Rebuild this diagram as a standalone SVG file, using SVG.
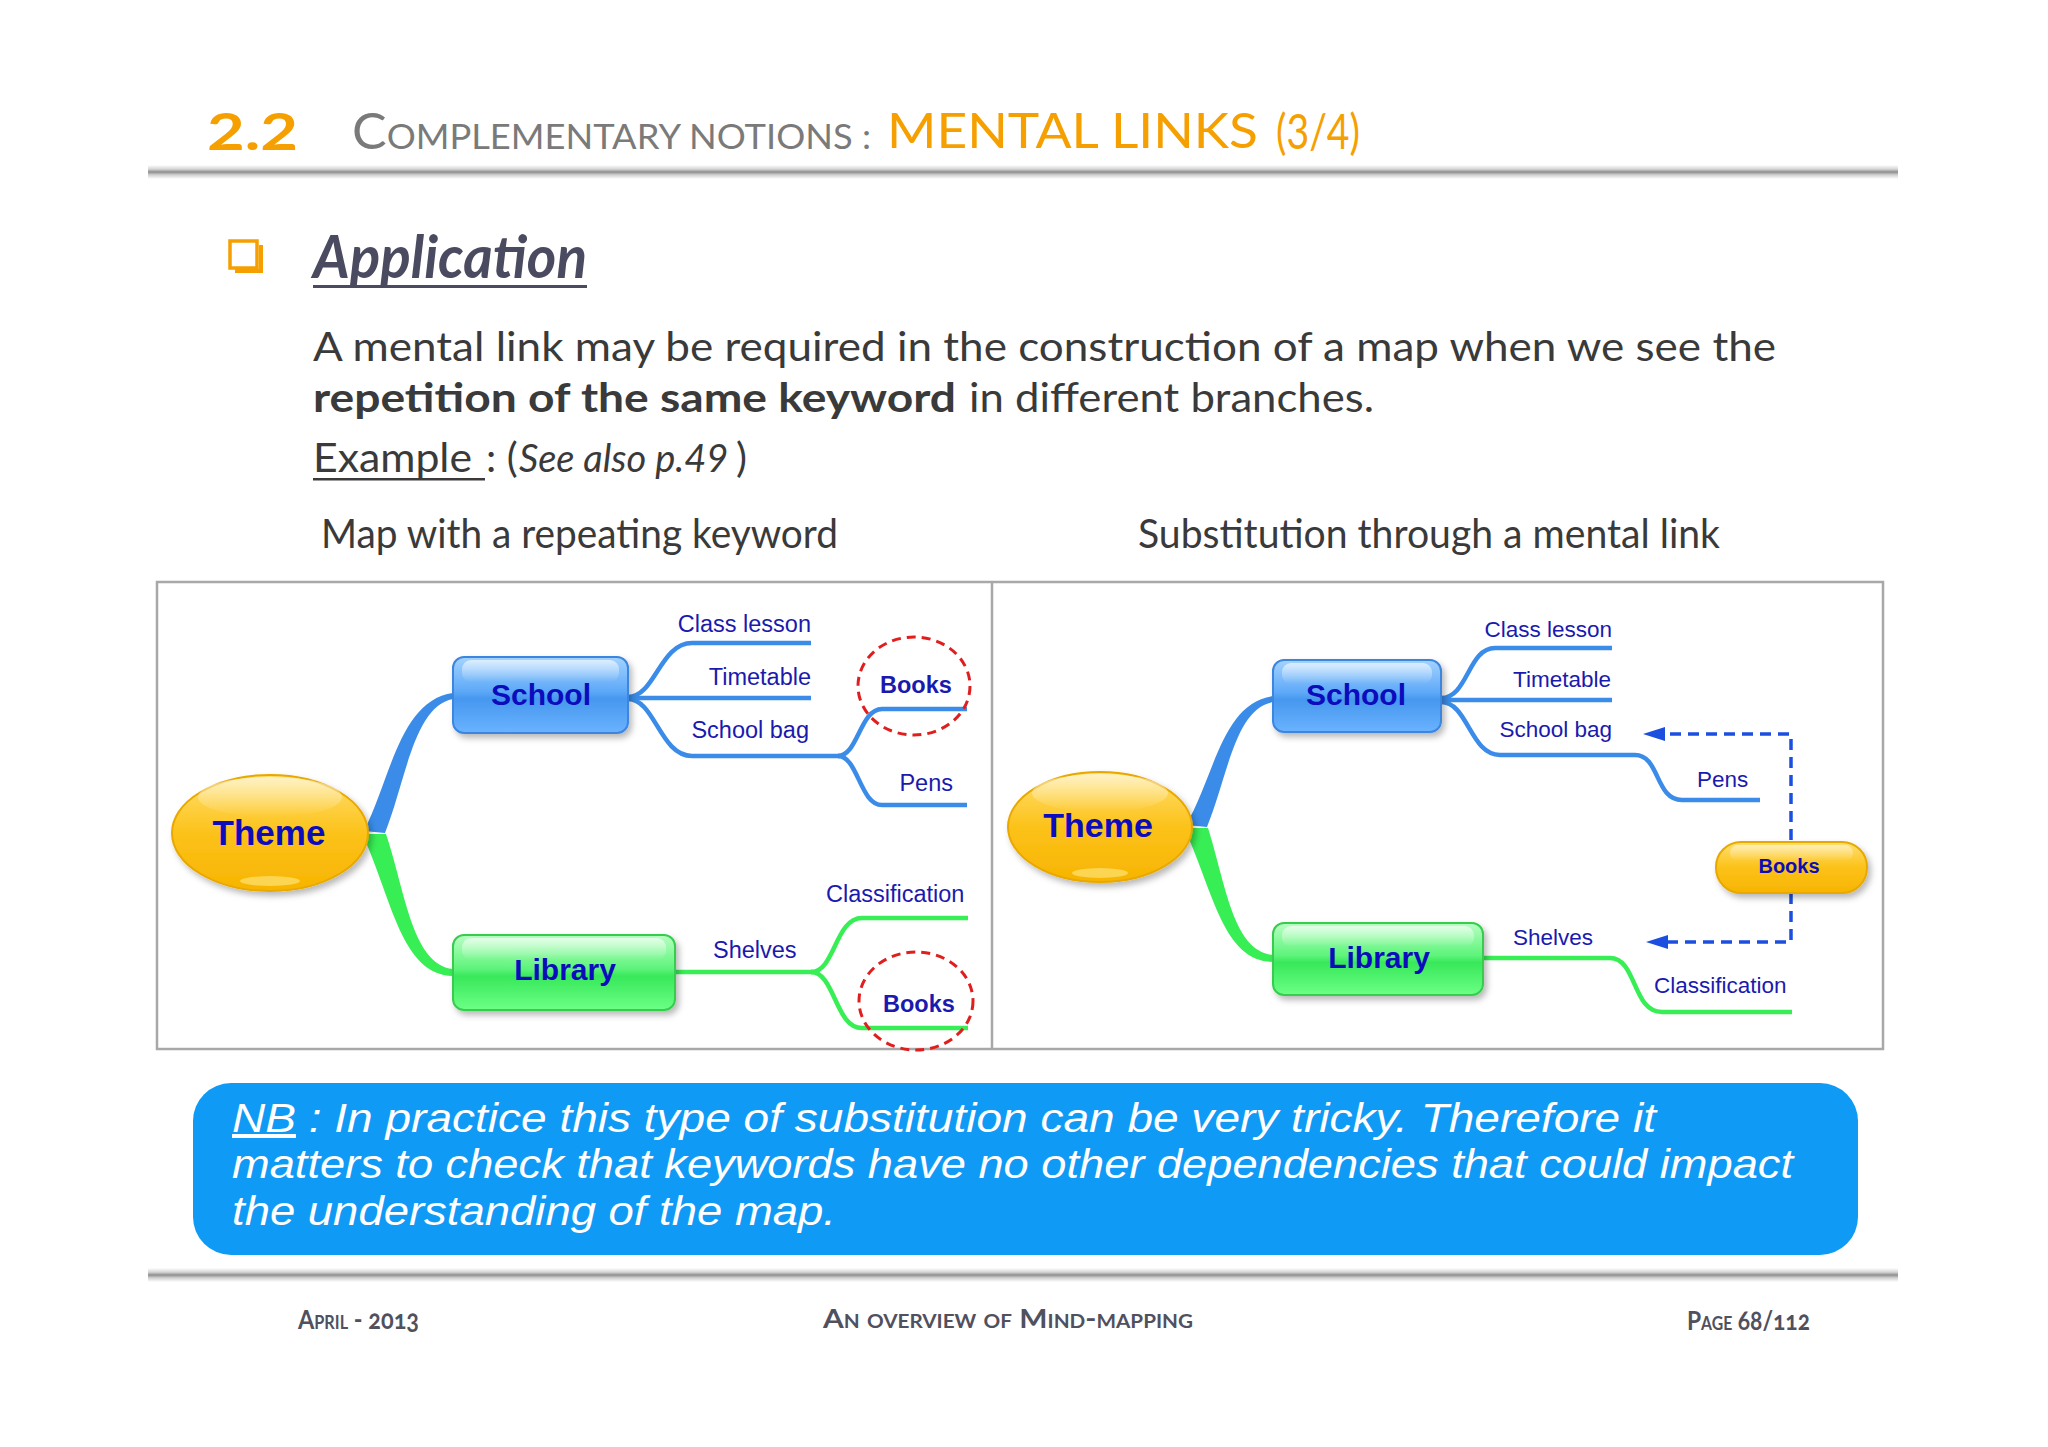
<svg xmlns="http://www.w3.org/2000/svg" width="2048" height="1447" viewBox="0 0 2048 1447">
<defs>
<style>
.title{font-family:Lato,"Open Sans","Liberation Sans",sans-serif;}
.body{font-family:Lato,"Open Sans","Liberation Sans",sans-serif;fill:#3a3a3a;font-size:41px;}
.foot{font-family:Lato,"Open Sans","Liberation Sans",sans-serif;fill:#50505e;font-size:26px;font-variant:small-caps;font-variant-numeric:oldstyle-nums;font-weight:bold;}
.lbl{font-family:"Liberation Sans",Arial,sans-serif;fill:#1a1aae;font-size:23.5px;}
.lblr{font-family:"Liberation Sans",Arial,sans-serif;fill:#1a1aae;font-size:22.5px;}
.node{font-family:"Liberation Sans",Arial,sans-serif;fill:#0c0cbc;font-weight:bold;text-anchor:middle;}
.bl{fill:none;stroke:#3a8ce8;stroke-width:4.5;stroke-linecap:butt;}
.gl{fill:none;stroke:#38ee55;stroke-width:4.5;stroke-linecap:butt;}
.red{fill:none;stroke:#e01e1e;stroke-width:3;stroke-dasharray:9 6;}
.dash{fill:none;stroke:#1c4fe0;stroke-width:3.5;stroke-dasharray:11 7;}
.nb{font-family:"Liberation Sans",Arial,sans-serif;font-style:italic;fill:#ffffff;font-size:40px;}
</style>
<linearGradient id="rule" x1="0" y1="0" x2="0" y2="1">
<stop offset="0" stop-color="#ffffff"/>
<stop offset="0.3" stop-color="#d4d4d4"/>
<stop offset="0.5" stop-color="#8e8e8e"/>
<stop offset="0.7" stop-color="#cfcfcf"/>
<stop offset="1" stop-color="#ffffff"/>
</linearGradient>
<linearGradient id="yel" x1="0" y1="0" x2="0" y2="1">
<stop offset="0" stop-color="#ffe070"/>
<stop offset="0.5" stop-color="#fcc21a"/>
<stop offset="1" stop-color="#f7b400"/>
</linearGradient>
<linearGradient id="blu" x1="0" y1="0" x2="0" y2="1">
<stop offset="0" stop-color="#a4d3ff"/>
<stop offset="0.45" stop-color="#5ea9f8"/>
<stop offset="0.55" stop-color="#4697ef"/>
<stop offset="1" stop-color="#6ab3ff"/>
</linearGradient>
<linearGradient id="grn" x1="0" y1="0" x2="0" y2="1">
<stop offset="0" stop-color="#b8ffc2"/>
<stop offset="0.45" stop-color="#5ef47b"/>
<stop offset="0.55" stop-color="#38e85a"/>
<stop offset="1" stop-color="#6cff86"/>
</linearGradient>
<linearGradient id="gloss" x1="0" y1="0" x2="0" y2="1">
<stop offset="0" stop-color="#ffffff" stop-opacity="0.85"/>
<stop offset="1" stop-color="#ffffff" stop-opacity="0"/>
</linearGradient>
<filter id="sh" x="-20%" y="-20%" width="150%" height="160%">
<feDropShadow dx="3" dy="4" stdDeviation="3" flood-color="#000" flood-opacity="0.28"/>
</filter>
<marker id="arr" markerUnits="userSpaceOnUse" markerWidth="24" markerHeight="16" refX="0" refY="7" orient="auto">
<path d="M0,0 L22,7 L0,14 Z" fill="#1c4fe0"/>
</marker>
</defs>

<rect width="2048" height="1447" fill="#ffffff"/>

<!-- header -->
<g id="header">
<text class="title" x="207" y="150" font-size="52" fill="#f5a000" font-weight="bold" textLength="91" lengthAdjust="spacingAndGlyphs">2.2</text>
<text class="title" x="352" y="149" fill="#7a7a7a" textLength="519" lengthAdjust="spacingAndGlyphs"><tspan font-size="50">C</tspan><tspan font-size="35">OMPLEMENTARY NOTIONS :</tspan></text>
<text class="title" x="887" y="148" font-size="48" fill="#f5a000" textLength="371" lengthAdjust="spacingAndGlyphs">MENTAL LINKS</text>
<text class="title" x="1276" y="149" font-size="48" fill="#f5a000" textLength="84" lengthAdjust="spacingAndGlyphs">(3/4)</text>
<rect x="148" y="165" width="1750" height="14" fill="url(#rule)"/>
</g>

<!-- application heading -->
<g id="heading">
<rect x="230" y="241" width="27" height="27" fill="none" stroke="#f5a000" stroke-width="3.5"/>
<path d="M259,245 L263,245 L263,273 L235,273 L235,269 L259,269 Z" fill="#f5a000"/>
<text x="313" y="278" font-family="Lato,'Open Sans','Liberation Sans',sans-serif" font-size="60" font-style="italic" font-weight="bold" fill="#4a4a60" textLength="274" lengthAdjust="spacingAndGlyphs">Application</text>
<rect x="313" y="285" width="274" height="3" fill="#4a4a60"/>
</g>

<g id="bodytext">
<text class="body" x="313" y="361" textLength="1463" lengthAdjust="spacingAndGlyphs">A mental link may be required in the construction of a map when we see the</text>
<text class="body" x="313" y="412" font-weight="bold" textLength="643" lengthAdjust="spacingAndGlyphs">repetition of the same keyword</text>
<text class="body" x="969" y="412" textLength="405" lengthAdjust="spacingAndGlyphs">in different branches.</text>
<text class="body" x="313" y="472" textLength="159" lengthAdjust="spacingAndGlyphs">Example</text>
<rect x="313" y="478" width="172" height="2.5" fill="#3a3a3a"/>
<text class="body" x="486" y="472">: (</text>
<text class="body" x="519" y="472" style="font-size:38px" font-style="italic">See also p.49</text>
<text class="body" x="736" y="472">)</text>
<text class="body" x="321" y="548" style="font-size:40px" textLength="517" lengthAdjust="spacingAndGlyphs">Map with a repeating keyword</text>
<text class="body" x="1138" y="548" style="font-size:40px" textLength="582" lengthAdjust="spacingAndGlyphs">Substitution through a mental link</text>
</g>

<!-- panels -->
<g id="panels">
<rect x="157" y="582" width="1726" height="467" fill="#ffffff" stroke="#a8a8a8" stroke-width="2.5"/>
<line x1="992" y1="582" x2="992" y2="1049" stroke="#a8a8a8" stroke-width="2.5"/>
</g>

<!-- connectors -->
<g id="connectors">
<path d="M364,831 C390,780 400,700 453,693 L453,699 C414,706 406,780 385,833 Z" fill="#3a8ce8"/>
<path d="M364,834 L386,834 C405,890 412,965 453,969 L453,976 C402,975 392,900 364,838 Z" fill="#38ee55"/>
<path class="bl" d="M628,697 C655,697 660,643 692,643 L811,643"/>
<path class="bl" d="M628,698 L811,698"/>
<path class="bl" d="M628,699 C655,699 660,756 692,756 L842,756"/>
<path class="bl" d="M838,756 C858,756 860,709 882,709 L967,709"/>
<path class="bl" d="M838,756 C858,756 860,805 882,805 L967,805"/>
<path class="gl" d="M675,972 L815,972"/>
<path class="gl" d="M811,972 C835,972 835,918 862,918 L968,918"/>
<path class="gl" d="M811,972 C835,972 835,1028 862,1028 L968,1028"/>
<path d="M1186,825 C1215,775 1222,703 1273,696 L1273,702 C1235,709 1228,775 1207,827 Z" fill="#3a8ce8"/>
<path d="M1186,828 L1208,828 C1226,885 1233,951 1273,955 L1273,962 C1224,961 1214,895 1186,832 Z" fill="#38ee55"/>
<path class="bl" d="M1441,698 C1468,698 1468,648 1495,648 L1612,648"/>
<path class="bl" d="M1441,700 L1612,700"/>
<path class="bl" d="M1441,702 C1468,702 1470,755 1500,755 L1635,755 C1660,755 1655,800 1682,800 L1760,800"/>
<path class="gl" d="M1483,958 L1610,958 C1637,958 1632,1012 1662,1012 L1792,1012"/>
<path class="dash" d="M1791,840 L1791,734 L1665,734" marker-end="url(#arr)"/>
<path class="dash" d="M1791,893 L1791,942 L1668,942" marker-end="url(#arr)"/>
<ellipse class="red" cx="914" cy="686" rx="56" ry="49"/>
<ellipse class="red" cx="916" cy="1001" rx="57" ry="49"/>
</g>

<!-- left panel nodes -->
<g id="theme-left">
<ellipse cx="270" cy="833" rx="98" ry="58" fill="url(#yel)" stroke="#e8a800" stroke-width="2" filter="url(#sh)"/>
<ellipse cx="270" cy="797" rx="72" ry="20" fill="url(#gloss)" opacity="0.7"/>
<ellipse cx="270" cy="881" rx="30" ry="5" fill="#ffe98a" opacity="0.6"/>
<text class="node" x="269" y="845" font-size="35">Theme</text>
</g>
<g id="school-left">
<rect x="453" y="657" width="175" height="76" rx="11" fill="url(#blu)" stroke="#3d86e0" stroke-width="2" filter="url(#sh)"/>
<rect x="462" y="660" width="157" height="22" rx="9" fill="url(#gloss)" opacity="0.75"/>
<text class="node" x="541" y="705" font-size="30">School</text>
</g>
<g id="library-left">
<rect x="453" y="935" width="222" height="75" rx="11" fill="url(#grn)" stroke="#38cc50" stroke-width="2" filter="url(#sh)"/>
<rect x="462" y="938" width="204" height="22" rx="9" fill="url(#gloss)" opacity="0.75"/>
<text class="node" x="565" y="980" font-size="30">Library</text>
</g>
<g id="labels-left">
<text class="lbl" x="811" y="632" text-anchor="end">Class lesson</text>
<text class="lbl" x="811" y="685" text-anchor="end">Timetable</text>
<text class="lbl" x="809" y="738" text-anchor="end">School bag</text>
<text class="lbl" x="880" y="693" font-weight="bold">Books</text>
<text class="lbl" x="953" y="791" text-anchor="end">Pens</text>
<text class="lbl" x="713" y="958">Shelves</text>
<text class="lbl" x="826" y="902">Classification</text>
<text class="lbl" x="883" y="1012" font-weight="bold">Books</text>
</g>

<!-- right panel nodes -->
<g id="theme-right">
<ellipse cx="1100" cy="827" rx="92" ry="55" fill="url(#yel)" stroke="#e8a800" stroke-width="2" filter="url(#sh)"/>
<ellipse cx="1100" cy="793" rx="68" ry="19" fill="url(#gloss)" opacity="0.7"/>
<ellipse cx="1100" cy="873" rx="28" ry="5" fill="#ffe98a" opacity="0.6"/>
<text class="node" x="1098" y="837" font-size="34">Theme</text>
</g>
<g id="school-right">
<rect x="1273" y="660" width="168" height="72" rx="11" fill="url(#blu)" stroke="#3d86e0" stroke-width="2" filter="url(#sh)"/>
<rect x="1282" y="663" width="150" height="21" rx="9" fill="url(#gloss)" opacity="0.75"/>
<text class="node" x="1356" y="705" font-size="30">School</text>
</g>
<g id="library-right">
<rect x="1273" y="923" width="210" height="72" rx="11" fill="url(#grn)" stroke="#38cc50" stroke-width="2" filter="url(#sh)"/>
<rect x="1282" y="926" width="192" height="21" rx="9" fill="url(#gloss)" opacity="0.75"/>
<text class="node" x="1379" y="968" font-size="30">Library</text>
</g>
<g id="books-right">
<rect x="1716" y="842" width="151" height="51" rx="25" fill="url(#yel)" stroke="#e8a800" stroke-width="2" filter="url(#sh)"/>
<rect x="1730" y="845" width="123" height="16" rx="8" fill="url(#gloss)" opacity="0.6"/>
<text class="node" x="1789" y="873" font-size="20" fill="#1a1a9a">Books</text>
</g>
<g id="labels-right">
<text class="lblr" x="1612" y="637" text-anchor="end">Class lesson</text>
<text class="lblr" x="1611" y="687" text-anchor="end">Timetable</text>
<text class="lblr" x="1612" y="737" text-anchor="end">School bag</text>
<text class="lblr" x="1697" y="787">Pens</text>
<text class="lblr" x="1513" y="945">Shelves</text>
<text class="lblr" x="1654" y="993">Classification</text>
</g>

<!-- NB box -->
<g id="nb">
<rect x="193" y="1083" width="1665" height="172" rx="38" fill="#0f9af5"/>
<text class="nb" x="232" y="1132" textLength="1424" lengthAdjust="spacingAndGlyphs"><tspan text-decoration="underline">NB</tspan> : In practice this type of substitution can be very tricky. Therefore it</text>
<text class="nb" x="232" y="1178" textLength="1561" lengthAdjust="spacingAndGlyphs">matters to check that keywords have no other dependencies that could impact</text>
<text class="nb" x="232" y="1225" textLength="604" lengthAdjust="spacingAndGlyphs">the understanding of the map.</text>
</g>

<!-- footer -->
<g id="footer">
<rect x="148" y="1268" width="1750" height="14" fill="url(#rule)"/>
<text class="foot" x="298" y="1329" textLength="121" lengthAdjust="spacingAndGlyphs">April - 2013</text>
<text class="foot" x="823" y="1328" textLength="370" lengthAdjust="spacingAndGlyphs">An overview of Mind-mapping</text>
<text class="foot" x="1687" y="1330" textLength="123" lengthAdjust="spacingAndGlyphs">Page 68/112</text>
</g>
</svg>
